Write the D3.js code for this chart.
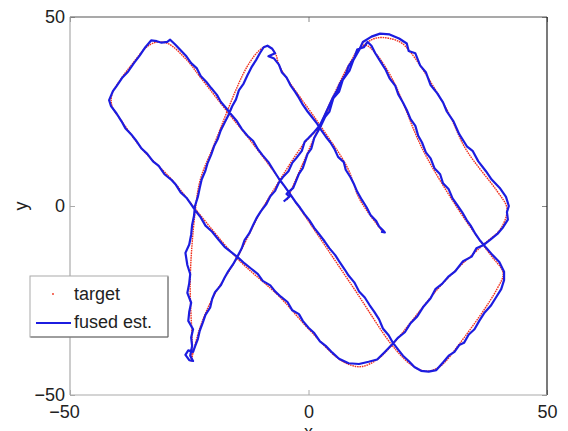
<!DOCTYPE html>
<html>
<head>
<meta charset="utf-8">
<script src="https://cdn.jsdelivr.net/npm/d3@7"></script>
<style>
  body { margin: 0; background: #fff; }
  text { font-family: "Liberation Sans", Arial, Helvetica, sans-serif; fill: #222; }
</style>
</head>
<body>
<script>
var W = 568, H = 431;
var margin = { left: 70, top: 17, right: 21, bottom: 36 };

// axis ticks
var xTicks = [-50, 0, 50];
var yTicks = [-50, 0, 50];

// target trajectory (red dots)
var targetPts = [
  [-4.5, 1.6], [2.4, 21.4], [9.0, 38.5], [11.5, 42.5], [14.5, 44.5], [19.0, 43.5], [21.5, 40.5],
  [29.0, 25.5], [33.0, 15.0], [39.5, 4.0], [41.5, 0.0], [41.5, -2.5], [40.0, -6.5], [36.6, -10.3],
  [28.2, -20.4], [17.5, -36.8], [14.5, -40.5], [11.0, -42.5], [7.0, -41.0], [0.0, -32.5],
  [-6.0, -24.1], [-15.0, -13.8], [-23.2, -1.6], [-28.6, 6.9], [-34.7, 14.8], [-38.9, 22.0],
  [-41.2, 26.5], [-41.2, 29.5], [-39.5, 33.3], [-36.8, 37.8], [-34.0, 42.0], [-32.0, 43.3],
  [-29.5, 43.0], [-25.5, 38.6], [-22.7, 34.1], [-16.5, 24.1], [-12.3, 17.5], [-6.0, 6.9],
  [9.3, -21.4], [17.5, -36.8], [21.5, -42.0], [24.5, -43.7], [27.5, -42.5], [31.8, -36.2],
  [39.5, -22.0], [40.8, -17.7], [38.5, -13.5], [36.6, -10.3], [31.1, -0.3], [24.0, 14.8],
  [17.7, 33.3], [14.0, 40.5], [12.0, 42.5], [10.5, 41.5], [9.0, 38.5], [2.4, 21.4],
  [-1.2, 16.1], [-6.0, 6.9], [-10.2, -1.9], [-15.0, -13.8], [-20.0, -24.1], [-22.7, -32.0],
  [-24.2, -38.9], [-24.6, -41.0], [-24.4, -37.0], [-24.8, -19.6], [-23.8, -1.9], [-22.7, 6.9],
  [-20.0, 15.6], [-12.9, 36.8], [-10.0, 41.5], [-8.5, 42.3], [-7.0, 40.5], [-6.0, 36.8],
  [2.4, 21.4], [8.1, 10.3], [10.8, 1.6], [15.6, -6.9]
];

// fused estimate (blue line)
var fusedPts = [
  [-5.2, 1.2], [-4.0, 2.5], [-4.6, 3.2], [-3.2, 4.8], [-2.0, 8.5], [-1.2, 10.0], [-0.2, 13.8],
  [0.6, 15.2], [1.2, 18.0], [2.6, 21.2], [3.5, 23.6], [4.4, 25.0], [5.2, 28.5], [6.4, 30.2],
  [7.2, 33.4], [8.6, 35.8], [9.4, 38.6], [10.6, 41.2], [11.4, 43.4], [13.2, 44.8], [15.0, 45.6],
  [17.0, 45.4], [19.0, 44.3], [20.6, 43.0], [21.0, 41.0], [22.4, 40.4], [23.4, 37.2], [24.6, 35.4],
  [25.6, 32.0], [27.0, 29.8], [28.2, 27.4], [29.0, 25.0], [30.4, 22.4], [31.6, 19.0], [33.2, 15.8],
  [34.4, 14.6], [35.6, 11.8], [37.2, 9.2], [38.4, 7.0], [40.2, 4.6], [41.4, 2.4], [42.0, 0.0],
  [41.6, -1.6], [41.8, -3.6], [40.8, -5.6], [39.6, -7.4], [38.2, -8.8], [36.6, -10.4], [35.2, -11.2],
  [34.2, -13.4], [32.4, -14.6], [30.8, -17.2], [29.4, -18.6], [28.0, -20.6], [26.6, -22.0],
  [25.6, -24.4], [24.0, -26.8], [22.8, -29.2], [21.4, -31.0], [20.2, -33.4], [18.8, -34.8],
  [17.4, -36.8], [16.0, -38.6], [14.4, -40.6], [12.6, -41.2], [10.6, -41.8], [8.4, -41.6],
  [6.4, -40.4], [5.0, -38.8], [3.6, -37.0], [2.4, -35.8], [1.2, -33.6], [0.0, -32.2], [-1.2, -30.4],
  [-2.0, -28.6], [-3.4, -27.6], [-4.4, -25.4], [-5.8, -24.0], [-7.0, -22.6], [-8.0, -21.0],
  [-9.6, -19.8], [-10.6, -18.0], [-12.0, -16.6], [-13.4, -15.2], [-14.8, -13.6], [-16.0, -12.4],
  [-17.6, -10.8], [-18.8, -9.0], [-20.2, -6.8], [-21.6, -5.2], [-22.6, -3.0], [-23.6, -1.4],
  [-24.6, 0.4], [-25.6, 2.2], [-26.8, 3.6], [-27.8, 5.6], [-28.8, 7.0], [-30.2, 8.4], [-31.4, 10.6],
  [-32.6, 11.8], [-33.8, 13.8], [-35.0, 15.2], [-36.2, 17.4], [-37.2, 19.0], [-38.4, 20.6],
  [-39.2, 22.4], [-40.2, 24.4], [-41.4, 26.4], [-41.8, 28.0], [-41.0, 30.4], [-40.2, 31.8],
  [-39.0, 34.0], [-37.8, 35.6], [-36.6, 37.8], [-35.4, 39.8], [-34.2, 42.0], [-33.0, 43.8],
  [-31.8, 43.6], [-30.8, 43.2], [-29.6, 43.4], [-29.0, 44.0], [-28.0, 42.8], [-26.8, 41.2],
  [-25.6, 39.6], [-24.6, 37.8], [-23.4, 36.4], [-22.6, 34.4], [-21.4, 32.8], [-20.4, 31.2],
  [-19.2, 29.4], [-18.4, 27.6], [-17.2, 25.8], [-16.2, 24.2], [-15.0, 22.4], [-14.0, 20.4],
  [-12.8, 18.6], [-11.6, 17.2], [-10.6, 15.0], [-9.6, 13.4], [-8.4, 11.6], [-7.4, 9.6], [-6.2, 7.2],
  [-5.0, 5.2], [-4.0, 3.4], [-2.8, 1.2], [-1.8, -0.4], [-0.8, -2.2], [0.2, -3.8], [1.2, -5.8],
  [2.2, -7.4], [3.4, -9.4], [4.4, -11.2], [5.6, -13.0], [6.4, -14.6], [7.6, -16.8], [8.4, -18.4],
  [9.6, -20.2], [10.6, -22.6], [11.8, -24.2], [12.8, -26.2], [13.8, -28.0], [14.8, -30.0],
  [15.6, -32.4], [16.8, -34.2], [17.6, -36.0], [18.8, -38.0], [19.8, -39.6], [21.0, -41.0],
  [22.2, -42.6], [23.6, -43.6], [25.2, -43.8], [26.8, -43.4], [28.2, -41.4], [29.4, -39.6],
  [30.6, -38.6], [31.6, -36.8], [32.6, -36.2], [33.6, -34.0], [34.8, -32.6], [35.8, -30.4],
  [36.8, -28.4], [38.2, -26.4], [39.2, -24.4], [40.4, -22.0], [41.0, -19.6], [41.0, -17.4],
  [40.0, -14.8], [38.6, -13.0], [37.2, -11.0], [36.0, -9.2], [35.0, -7.4], [34.0, -5.2],
  [33.2, -3.8], [32.2, -1.6], [31.2, 0.2], [30.2, 2.0], [29.4, 4.4], [28.2, 6.0], [27.6, 8.4],
  [26.4, 10.0], [25.6, 12.6], [24.6, 14.2], [23.8, 16.8], [23.0, 18.6], [22.4, 21.2], [21.4, 23.0],
  [20.6, 25.4], [19.8, 27.4], [18.8, 29.6], [18.2, 31.8], [17.0, 33.8], [16.2, 36.0], [15.0, 38.4],
  [14.0, 40.4], [13.2, 42.4], [12.4, 43.4], [11.6, 42.0], [10.2, 41.4], [9.6, 39.2], [8.4, 37.0],
  [7.8, 34.8], [6.6, 32.4], [6.0, 30.6], [5.0, 28.4], [4.2, 26.2], [3.4, 24.0], [2.4, 21.4],
  [1.2, 19.6], [0.0, 18.0], [-0.8, 17.0], [-1.4, 14.6], [-2.6, 12.6], [-3.4, 11.4], [-4.2, 9.2],
  [-5.4, 7.6], [-6.2, 6.2], [-7.0, 4.0], [-8.0, 2.6], [-8.8, 0.6], [-10.0, -1.4], [-10.8, -3.0],
  [-11.6, -5.0], [-12.4, -7.2], [-13.4, -9.0], [-14.0, -11.2], [-15.0, -13.6], [-15.8, -15.4],
  [-16.8, -17.2], [-17.6, -19.0], [-18.4, -21.0], [-19.6, -22.8], [-20.2, -24.6], [-20.6, -26.8],
  [-21.6, -28.8], [-22.2, -31.0], [-22.8, -33.0], [-23.2, -35.2], [-23.8, -37.2], [-24.2, -38.6],
  [-25.2, -38.2], [-25.8, -39.4], [-25.0, -40.8], [-24.2, -41.0], [-24.8, -39.6], [-24.4, -37.0],
  [-24.6, -34.8], [-24.2, -32.6], [-25.2, -30.4], [-25.0, -28.0], [-24.6, -25.6], [-25.4, -23.0],
  [-25.0, -20.4], [-24.8, -18.0], [-25.4, -15.6], [-25.8, -12.4], [-25.0, -10.2], [-24.6, -7.6],
  [-24.4, -5.0], [-24.0, -2.6], [-23.8, 0.0], [-23.2, 2.4], [-22.8, 4.8], [-22.4, 7.0], [-21.6, 9.4],
  [-21.2, 11.2], [-20.4, 13.6], [-19.8, 15.8], [-19.0, 17.8], [-18.4, 20.0], [-17.6, 22.0],
  [-16.8, 24.0], [-16.0, 26.4], [-15.2, 28.2], [-14.6, 30.6], [-13.6, 32.4], [-12.8, 34.6],
  [-12.0, 36.6], [-11.0, 38.6], [-10.2, 40.4], [-9.4, 42.0], [-8.6, 42.4], [-7.6, 41.6], [-7.0, 40.4],
  [-8.4, 39.6], [-7.2, 39.0], [-6.2, 37.4], [-5.6, 35.4], [-4.6, 34.0], [-3.8, 32.0], [-2.8, 30.2],
  [-2.0, 28.6], [-1.2, 26.8], [-0.2, 25.0], [0.8, 23.4], [1.8, 21.8], [2.6, 20.2], [3.6, 18.4],
  [4.6, 16.8], [5.4, 15.2], [6.2, 13.0], [7.4, 11.6], [7.8, 9.6], [8.8, 7.6], [9.6, 5.6], [10.2, 3.8],
  [11.2, 1.6], [12.2, -0.4], [13.0, -2.4], [14.2, -4.0], [14.8, -5.4], [15.6, -6.4], [16.0, -7.0],
  [15.2, -6.8]
];

var legendLabels = ["target", "fused est."];

var svg = d3.select("body").append("svg").attr("width", W).attr("height", H);

var x = d3.scaleLinear().domain([-50, 50]).range([margin.left, W - margin.right]);
var y = d3.scaleLinear().domain([-50, 50]).range([H - margin.bottom, margin.top]);

svg.append("clipPath").attr("id", "plotclip")
  .append("rect")
  .attr("x", x(-50)).attr("y", y(50))
  .attr("width", x(50) - x(-50)).attr("height", y(-50) - y(50));

var line = d3.line().x(function (d) { return x(d[0]); }).y(function (d) { return y(d[1]); });

var plot = svg.append("g").attr("clip-path", "url(#plotclip)");

// target as dense red dots
plot.append("path")
  .attr("d", line.curve(d3.curveCatmullRom.alpha(0.5))(targetPts))
  .attr("fill", "none")
  .attr("stroke", "#f0301c")
  .attr("stroke-width", 1.4)
  .attr("stroke-dasharray", "1.6,0.8");

// fused estimate
plot.append("path")
  .attr("d", line.curve(d3.curveLinear)(fusedPts))
  .attr("fill", "none")
  .attr("stroke", "#1c1ce0")
  .attr("stroke-width", 2.2)
  .attr("stroke-linejoin", "round");

// axes
var xAxis = d3.axisBottom(x).tickValues(xTicks).tickSizeInner(-5).tickSizeOuter(0).tickPadding(10)
  .tickFormat(d3.format("d"));
var yAxis = d3.axisLeft(y).tickValues(yTicks).tickSizeInner(-5).tickSizeOuter(0).tickPadding(5)
  .tickFormat(d3.format("d"));

var gx = svg.append("g").attr("transform", "translate(0," + y(-50) + ")").call(xAxis);
var gy = svg.append("g").attr("transform", "translate(" + x(-50) + ",0)").call(yAxis);
[gx, gy].forEach(function (g) {
  g.select(".domain").remove();
  g.selectAll(".tick line").attr("stroke", "#aaa");
  g.selectAll(".tick text").attr("font-size", 18).attr("fill", "#222")
    .style("font-family", "'Liberation Sans', Arial, sans-serif");
});
gx.selectAll(".tick text").attr("dx", function (d) { return d < 0 ? -6 : 0; });

// ticks on top and right edges
svg.append("g").attr("transform", "translate(0," + y(50) + ")")
  .call(d3.axisTop(x).tickValues(xTicks).tickSizeInner(-5).tickSizeOuter(0).tickFormat(""))
  .call(function (g) { g.select(".domain").remove(); g.selectAll("line").attr("stroke", "#888"); });
svg.append("g").attr("transform", "translate(" + x(50) + ",0)")
  .call(d3.axisRight(y).tickValues(yTicks).tickSizeInner(-5).tickSizeOuter(0).tickFormat(""))
  .call(function (g) { g.select(".domain").remove(); g.selectAll("line").attr("stroke", "#888"); });

// box
svg.append("line").attr("x1", x(-50)).attr("x2", x(50)).attr("y1", y(50)).attr("y2", y(50))
  .attr("stroke", "#555").attr("stroke-width", 1.2);
svg.append("line").attr("x1", x(50)).attr("x2", x(50)).attr("y1", y(50)).attr("y2", y(-50))
  .attr("stroke", "#222").attr("stroke-width", 1.2);
svg.append("line").attr("x1", x(-50)).attr("x2", x(-50)).attr("y1", y(50)).attr("y2", y(-50))
  .attr("stroke", "#aaa").attr("stroke-width", 1.2);
svg.append("line").attr("x1", x(-50)).attr("x2", x(50)).attr("y1", y(-50)).attr("y2", y(-50))
  .attr("stroke", "#aaa").attr("stroke-width", 1.2);

// axis labels
svg.append("text").attr("x", x(0)).attr("y", 438).attr("text-anchor", "middle")
  .attr("font-size", 18).text("x");
svg.append("text").attr("transform", "translate(27," + y(0) + ") rotate(-90)")
  .attr("text-anchor", "middle").attr("font-size", 18).text("y");

// legend
var lg = svg.append("g").attr("transform", "translate(30,276)");
lg.append("rect").attr("x", 0).attr("y", 0).attr("width", 138).attr("height", 61)
  .attr("fill", "#fff").attr("stroke", "#aaa");
lg.append("polyline").attr("points", "0.5,61 138,61 138,0.5").attr("fill", "none").attr("stroke", "#666");
lg.append("circle").attr("cx", 23).attr("cy", 18).attr("r", 0.9).attr("fill", "#f0301c");
lg.append("line").attr("x1", 6).attr("x2", 41).attr("y1", 47).attr("y2", 47)
  .attr("stroke", "#1c1ce0").attr("stroke-width", 2);
lg.selectAll("text.lab").data(legendLabels).enter().append("text").attr("class", "lab")
  .attr("x", 44).attr("y", function (d, i) { return 24 + i * 28; })
  .attr("font-size", 18).text(function (d) { return d; });
</script>
</body>
</html>
